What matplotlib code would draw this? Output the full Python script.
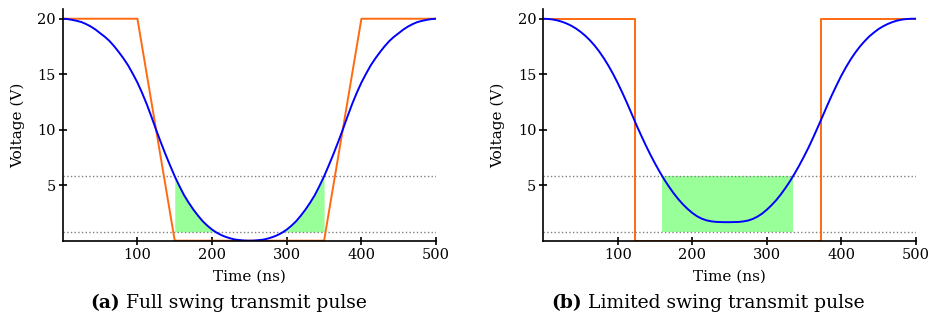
import matplotlib
matplotlib.use("Agg")
import matplotlib.pyplot as plt
import numpy as np

# time grid of the read-off blue curves, ns
t_blue = np.arange(0, 500.1, 6.25)

# (a) full swing: received waveform (V)
blue_a = [20.0, 19.97, 19.9, 19.81, 19.7, 19.52, 19.3, 19.03, 18.7, 18.38,
          18.0, 17.53, 17.0, 16.43, 15.8, 15.05, 14.25, 13.32, 12.3, 11.17,
          10.0, 8.88, 7.8, 6.78, 5.8, 4.92, 4.1, 3.42, 2.8, 2.25,
          1.75, 1.35, 1.0, 0.72, 0.5, 0.33, 0.2, 0.1, 0.05, 0.01,
          0.0,
          0.01, 0.05, 0.1, 0.2, 0.33, 0.5, 0.72, 1.0, 1.35, 1.75,
          2.25, 2.8, 3.42, 4.1, 4.92, 5.8, 6.78, 7.8, 8.88, 10.0,
          11.17, 12.3, 13.32, 14.25, 15.05, 15.8, 16.43, 17.0, 17.53, 18.0,
          18.38, 18.7, 19.03, 19.3, 19.52, 19.7, 19.81, 19.9, 19.97, 20.0]
# (a) transmit pulse (trapezoid)
t_tx_a = [0, 100, 150, 350, 400, 500]
v_tx_a = [20, 20, 0, 0, 20, 20]

# (b) limited swing: received waveform (V)
blue_b = [20.0, 19.98, 19.93, 19.85, 19.73, 19.57, 19.37, 19.12, 18.82, 18.47,
          18.06, 17.59, 17.05, 16.44, 15.76, 15.01, 14.19, 13.31, 12.38, 11.41,
          10.42, 9.5, 8.6, 7.75, 6.95, 6.2, 5.5, 4.86, 4.27, 3.74,
          3.27, 2.86, 2.5, 2.21, 1.99, 1.84, 1.75, 1.7, 1.68, 1.67,
          1.67,
          1.68, 1.69, 1.74, 1.82, 1.96, 2.17, 2.44, 2.79, 3.19, 3.64,
          4.16, 4.74, 5.37, 6.06, 6.8, 7.59, 8.42, 9.32, 10.26, 11.22,
          12.19, 13.13, 14.01, 14.86, 15.62, 16.32, 16.94, 17.49, 17.97, 18.4,
          18.75, 19.07, 19.32, 19.53, 19.7, 19.83, 19.92, 19.97, 20.0, 20.0]
# (b) transmit pulse (square)
t_tx_b = [0, 123, 123, 373, 373, 500]
v_tx_b = [20, 20, 0, 0, 20, 20]

# detection window levels (V) and time spans (ns)
v_low, v_high = 0.8, 5.8
win_a = (150, 350)
win_b = (160, 335)

x_ticks = [100, 200, 300, 400, 500]
y_ticks = [5, 10, 15, 20]

captions = [("(a)", " Full swing transmit pulse"),
            ("(b)", " Limited swing transmit pulse")]
caption_x = [229, 708]   # centre, px

plt.rcParams['font.family'] = ['DejaVu Serif']
plt.rcParams['font.size'] = 10.5

ORANGE = '#ff6a10'
BLUE = '#0000ff'
GREEN = '#99ff99'

fig = plt.figure(figsize=(9.31, 3.32), dpi=100)
ax_a = fig.add_axes([0.0674, 0.275, 0.401, 0.697])
ax_b = fig.add_axes([0.5836, 0.275, 0.400, 0.697])


def style(ax):
    ax.set_xlim(0, 500)
    ax.set_ylim(0, 20.85)
    ax.set_xticks(x_ticks)
    ax.set_yticks(y_ticks)
    for s in ['top', 'right']:
        ax.spines[s].set_visible(False)
    for s in ['left', 'bottom']:
        ax.spines[s].set_linewidth(1.2)
        ax.spines[s].set_zorder(5)
    ax.tick_params(direction='inout', length=6, width=1.2, pad=2)
    ax.set_xlabel('Time (ns)', labelpad=6, fontsize=11)
    ax.set_ylabel('Voltage (V)', labelpad=9, fontsize=11)
    ax.axhline(v_high, color='gray', ls=':', lw=1.0, zorder=2)
    ax.axhline(v_low, color='gray', ls=':', lw=1.0, zorder=2)


# left panel
t = np.array(t_blue)
ba = np.array(blue_a)
m = (t >= win_a[0]) & (t <= win_a[1])
ax_a.fill_between(t[m], v_low, np.clip(ba[m], v_low, v_high),
                  color=GREEN, lw=0, zorder=1)
ax_a.plot(t_tx_a, v_tx_a, color=ORANGE, lw=1.4, zorder=3)
ax_a.plot(t_blue, blue_a, color=BLUE, lw=1.4, zorder=4)
style(ax_a)

# right panel
ax_b.fill_between(win_b, v_low, v_high, color=GREEN, lw=0, zorder=1)
ax_b.plot(t_tx_b, v_tx_b, color=ORANGE, lw=1.4, zorder=3)
ax_b.plot(t_blue, blue_b, color=BLUE, lw=1.4, zorder=4)
style(ax_b)

# captions: bold label + normal text, centred together
r = fig.canvas.get_renderer()
W = fig.bbox.width
for (lab, txt), xc in zip(captions, caption_x):
    t1 = fig.text(0, 0.087, lab, fontsize=13.5, fontweight='bold', va='center')
    t2 = fig.text(0, 0.087, txt, fontsize=13.5, va='center')
    w1 = t1.get_window_extent(r).width
    w2 = t2.get_window_extent(r).width
    x0 = xc - (w1 + w2) / 2
    t1.set_x(x0 / W)
    t2.set_x((x0 + w1) / W)

fig.savefig('out.png', dpi=100)
